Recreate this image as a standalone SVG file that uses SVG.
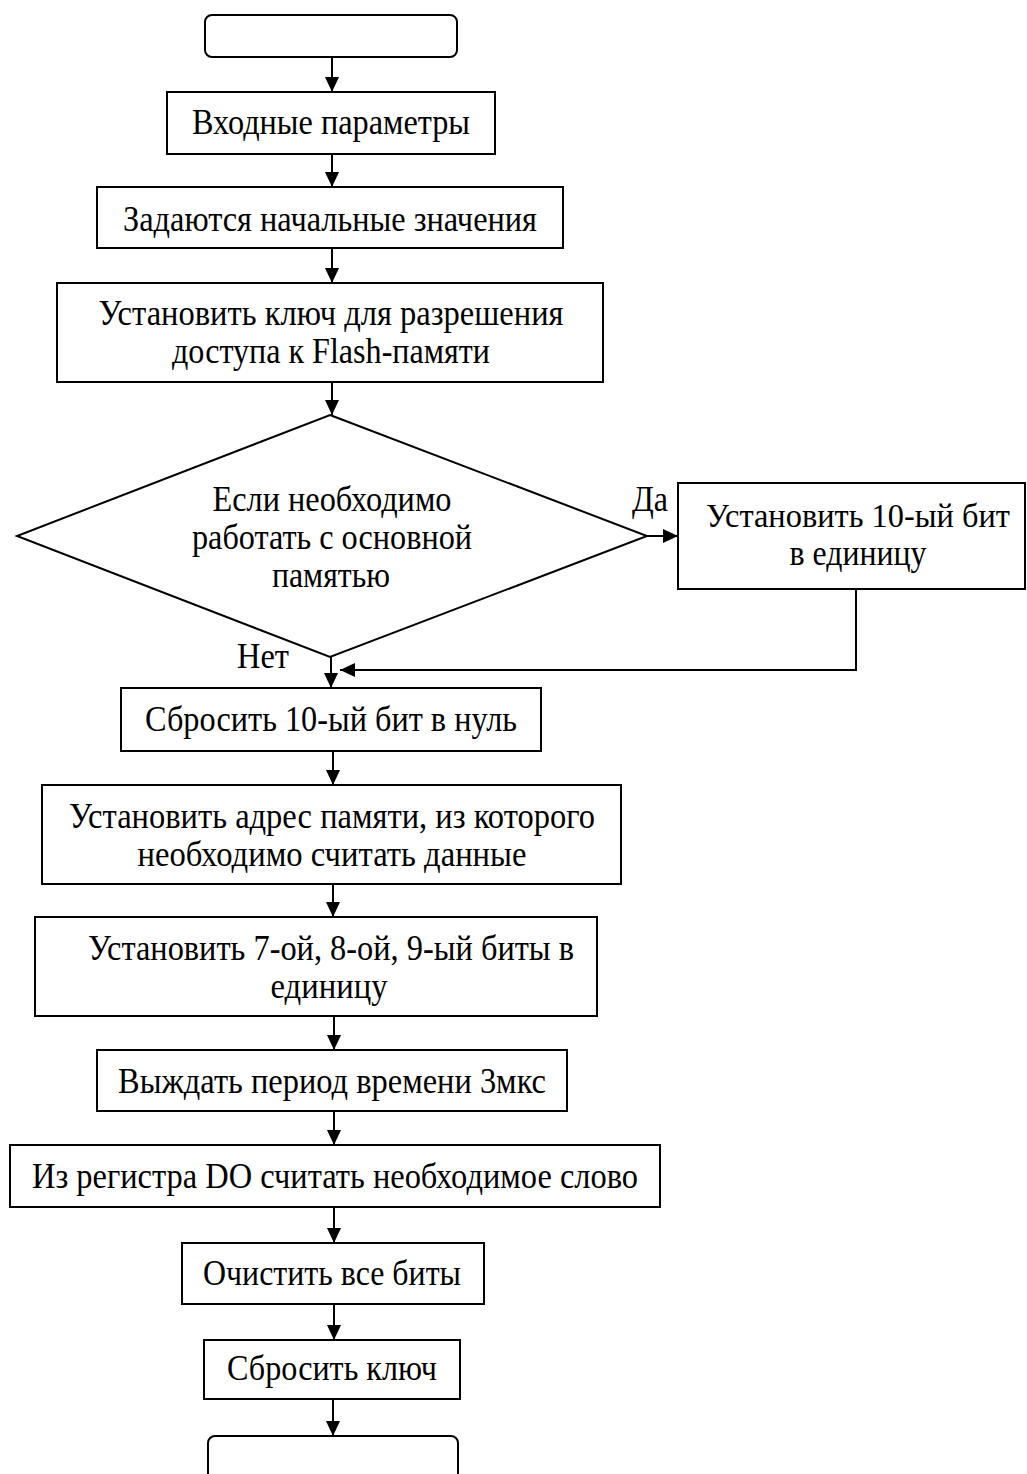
<svg xmlns="http://www.w3.org/2000/svg" width="1027" height="1474" viewBox="0 0 1027 1474">
<style>
.b{fill:#fff;stroke:#000;stroke-width:2}
.t{font-family:"Liberation Serif","Times New Roman",serif;font-size:35px;fill:#000;text-anchor:middle}
.c{fill:none;stroke:#000;stroke-width:2}
</style>
<defs>
<marker id="a" markerUnits="userSpaceOnUse" markerWidth="16" markerHeight="14" refX="15" refY="7" orient="auto">
<path d="M0,0 L15,7 L0,14 z" fill="#000"/>
</marker>
</defs>
<rect width="1027" height="1474" fill="#fff"/>
<g id="connectors">
<line class="c" x1="332" y1="57" x2="332" y2="92" marker-end="url(#a)"/>
<line class="c" x1="332" y1="154" x2="332" y2="187" marker-end="url(#a)"/>
<line class="c" x1="332" y1="248" x2="332" y2="283" marker-end="url(#a)"/>
<line class="c" x1="332" y1="382" x2="332" y2="415" marker-end="url(#a)"/>
<line class="c" x1="647" y1="536" x2="678" y2="536" marker-end="url(#a)"/>
<polyline class="c" points="856,589 856,670 340,670" marker-end="url(#a)"/>
<line class="c" x1="331" y1="657" x2="331" y2="688" marker-end="url(#a)"/>
<line class="c" x1="333" y1="751" x2="333" y2="785" marker-end="url(#a)"/>
<line class="c" x1="333" y1="884" x2="333" y2="917" marker-end="url(#a)"/>
<line class="c" x1="334" y1="1016" x2="334" y2="1050" marker-end="url(#a)"/>
<line class="c" x1="334" y1="1111" x2="334" y2="1145" marker-end="url(#a)"/>
<line class="c" x1="334" y1="1207" x2="334" y2="1243" marker-end="url(#a)"/>
<line class="c" x1="334" y1="1304" x2="334" y2="1340" marker-end="url(#a)"/>
<line class="c" x1="333" y1="1399" x2="333" y2="1436" marker-end="url(#a)"/>
</g>
<g id="start"><rect class="b" x="205" y="15" width="252" height="42" rx="7"/></g>
<g id="n1"><rect class="b" x="167" y="92" width="328" height="62"/><text class="t" x="331" y="134" textLength="278" lengthAdjust="spacingAndGlyphs">Входные параметры</text></g>
<g id="n2"><rect class="b" x="97" y="187" width="466" height="61"/><text class="t" x="330" y="231" textLength="414" lengthAdjust="spacingAndGlyphs">Задаются начальные значения</text></g>
<g id="n3"><rect class="b" x="57" y="283" width="546" height="99"/><text class="t" x="331" y="325" textLength="465" lengthAdjust="spacingAndGlyphs">Установить ключ для разрешения</text><text class="t" x="331" y="363" textLength="318" lengthAdjust="spacingAndGlyphs">доступа к Flash-памяти</text></g>
<g id="d1"><polygon class="b" points="330,415 647,536 330,657 17,536"/><text class="t" x="332" y="511" textLength="239" lengthAdjust="spacingAndGlyphs">Если необходимо</text><text class="t" x="332" y="549" textLength="280" lengthAdjust="spacingAndGlyphs">работать с основной</text><text class="t" x="331" y="587" textLength="118" lengthAdjust="spacingAndGlyphs">памятью</text></g>
<g id="lbl-yes"><text class="t" x="650" y="511" textLength="36" lengthAdjust="spacingAndGlyphs">Да</text></g>
<g id="lbl-no"><text class="t" x="263" y="668" textLength="52" lengthAdjust="spacingAndGlyphs">Нет</text></g>
<g id="n4"><rect class="b" x="678" y="483" width="347" height="106"/><text class="t" x="858" y="527" style="font-size:33px" textLength="304" lengthAdjust="spacingAndGlyphs">Установить 10-ый бит</text><text class="t" x="858" y="565" textLength="137" lengthAdjust="spacingAndGlyphs">в единицу</text></g>
<g id="n5"><rect class="b" x="121" y="688" width="420" height="63"/><text class="t" x="331" y="731" textLength="372" lengthAdjust="spacingAndGlyphs">Сбросить 10-ый бит в нуль</text></g>
<g id="n6"><rect class="b" x="42" y="785" width="579" height="99"/><text class="t" x="332" y="828" textLength="526" lengthAdjust="spacingAndGlyphs">Установить адрес памяти, из которого</text><text class="t" x="332" y="866" textLength="389" lengthAdjust="spacingAndGlyphs">необходимо считать данные</text></g>
<g id="n7"><rect class="b" x="35" y="917" width="562" height="99"/><text class="t" x="331" y="960" textLength="486" lengthAdjust="spacingAndGlyphs">Установить 7-ой, 8-ой, 9-ый биты в</text><text class="t" x="329" y="998" textLength="117" lengthAdjust="spacingAndGlyphs">единицу</text></g>
<g id="n8"><rect class="b" x="97" y="1050" width="470" height="61"/><text class="t" x="332" y="1093" textLength="428" lengthAdjust="spacingAndGlyphs">Выждать период времени 3мкс</text></g>
<g id="n9"><rect class="b" x="10" y="1145" width="650" height="62"/><text class="t" x="335" y="1188" textLength="606" lengthAdjust="spacingAndGlyphs">Из регистра DO считать необходимое слово</text></g>
<g id="n10"><rect class="b" x="182" y="1243" width="302" height="61"/><text class="t" x="332" y="1285" textLength="258" lengthAdjust="spacingAndGlyphs">Очистить все биты</text></g>
<g id="n11"><rect class="b" x="204" y="1340" width="256" height="59"/><text class="t" x="332" y="1380" textLength="210" lengthAdjust="spacingAndGlyphs">Сбросить ключ</text></g>
<g id="end"><rect class="b" x="208" y="1436" width="250" height="60" rx="7"/></g>
</svg>
